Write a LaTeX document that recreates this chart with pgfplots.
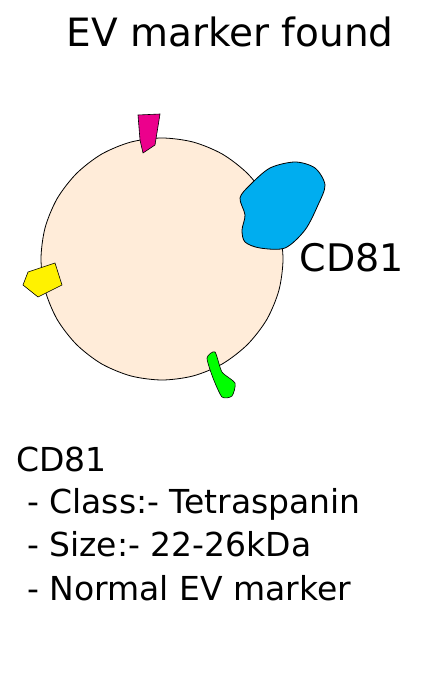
\documentclass[border=0pt]{standalone}
\usepackage{pgfplots}
\pgfplotsset{compat=1.18}
\usepackage{fontspec}
\setmainfont{DejaVu Sans}
\begin{document}
\begin{tikzpicture}
\useasboundingbox (0,0) rectangle (433pt,700pt);
\begin{axis}[at={(0,0)},anchor=south west,width=433pt,height=700pt,scale only axis,xmin=0,xmax=433,ymin=0,ymax=700,y dir=reverse,hide axis,clip=false]
\addplot[fill=orange!15!white,draw=black,thick,smooth cycle] coordinates {(283,259)(278.9,227.7)(266.8,198.5)(247.5,173.5)(222.5,154.2)(193.3,142.1)(162,138)(130.7,142.1)(101.5,154.2)(76.5,173.5)(57.2,198.5)(45.1,227.7)(41,259)(45.1,290.3)(57.2,319.5)(76.5,344.5)(101.5,363.8)(130.7,375.9)(162,380)(193.3,375.9)(222.5,363.8)(247.5,344.5)(266.8,319.5)(278.9,290.3)};
\addplot[fill=cyan,draw=black,thick,smooth cycle,tension=0.5] coordinates {(250,185)(270,168)(295,162)(315,168)(325,185)(318,205)(305,230)(285,248)(260,248)(245,242)(242,230)(245,215)(240,198)};
\addplot[fill=magenta,draw=black,semithick] coordinates {(138,115)(160,114)(155,145)(143,153)(140,140)} -- cycle;
\addplot[fill=yellow,draw=black,semithick] coordinates {(28,272)(55,263)(62,285)(38,297)(23,285)} -- cycle;
\addplot[fill=green,draw=black,semithick,smooth cycle,tension=0.4] coordinates {(207,358)(215,352)(222,372)(235,383)(232,396)(222,397)(213,378)};
\node[anchor=base west,font=\fontsize{39}{44}\selectfont] at (axis cs:63,47) {EV marker found};
\node[anchor=base west,font=\fontsize{38}{44}\selectfont] at (axis cs:296,272) {CD81};
\node[anchor=base west,font=\fontsize{33}{40}\selectfont] at (axis cs:13,471) {CD81};
\node[anchor=base west,font=\fontsize{33}{40}\selectfont] at (axis cs:13,513) {\ - Class:- Tetraspanin};
\node[anchor=base west,font=\fontsize{33}{40}\selectfont] at (axis cs:13,556) {\ - Size:- 22-26kDa};
\node[anchor=base west,font=\fontsize{33}{40}\selectfont] at (axis cs:13,600) {\ - Normal EV marker};
\end{axis}
\end{tikzpicture}
\end{document}
